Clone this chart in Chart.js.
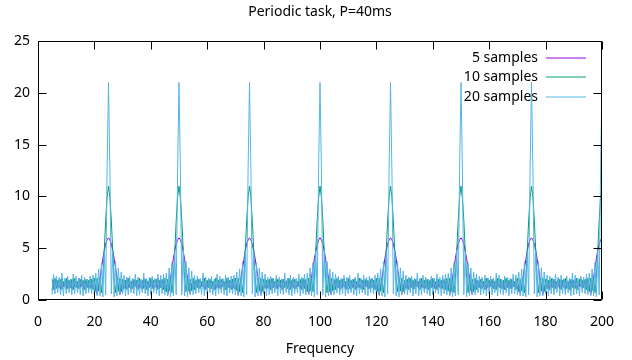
<!DOCTYPE html>
<html lang="en">
<head>
    <meta charset="utf-8">
    <script src="https://cdn.jsdelivr.net/npm/chart.js"></script>
    <style>
        html, body { margin: 0; padding: 0; background: #ffffff; }
        #wrap { width: 632px; height: 360px; position: relative; }
    </style>
</head>
<body>
    <div id="wrap"><canvas id="spectrum" width="632" height="360"></canvas></div>

    <script>
        // frequency grid of the samples (Hz)
        const freqStart = 5;
        const freqStep = 0.5;

        const seriesLabels = ['5 samples', '10 samples', '20 samples'];
        const seriesColors = ['#9400d3', '#009e73', '#56b4e9'];

        const xTicks = [0, 20, 40, 60, 80, 100, 120, 140, 160, 180, 200];
        const yTicks = [0, 5, 10, 15, 20, 25];

        // 5 samples
        const samples5 = [
            0.9,1.9,1.1,2.0,1.2,1.9,1.0,2.1,1.3,1.8,
            1.1,2.0,1.2,1.9,1.0,2.0,1.3,1.8,1.1,2.1,
            1.2,1.9,1.0,2.0,1.2,1.8,1.1,2.0,1.2,2.0,
            0.9,1.5,0.5,1.3,2.1,3.1,4.0,4.8,5.4,5.8,

            6.0,5.8,5.4,4.8,4.0,3.1,2.1,1.3,0.5,1.5,
            0.9,1.9,1.1,2.1,1.2,1.8,1.0,2.0,1.3,1.9,
            1.1,2.0,1.2,1.8,1.0,2.1,1.2,1.9,1.1,2.0,
            1.3,1.8,1.0,1.9,1.2,2.1,1.1,1.9,1.2,2.0,
            0.9,1.5,0.5,1.3,2.1,3.1,4.0,4.8,5.4,5.8,

            6.0,5.8,5.4,4.7,3.9,3.0,2.1,1.2,0.6,1.6,
            1.0,1.8,1.2,2.0,1.1,1.9,1.3,2.1,1.0,1.8,
            1.2,2.0,1.1,1.9,1.3,1.8,1.0,2.1,1.2,1.9,
            1.1,2.0,1.3,1.8,1.0,2.0,1.2,1.9,1.1,2.1,
            1.0,1.6,0.5,1.2,2.1,3.0,3.9,4.8,5.4,5.8,

            6.0,5.8,5.3,4.8,4.0,3.1,2.2,1.3,0.5,1.4,
            0.9,2.0,1.1,1.9,1.2,2.1,1.0,1.8,1.3,2.0,
            1.1,1.9,1.2,2.0,1.0,1.8,1.3,2.1,1.1,1.9,
            1.2,2.0,1.0,1.9,1.3,1.8,1.1,2.0,1.2,1.9,
            0.9,1.5,0.6,1.3,2.2,3.1,4.0,4.7,5.3,5.8,

            6.0,5.8,5.4,4.8,3.9,3.1,2.1,1.2,0.5,1.5,
            1.0,1.9,1.2,2.0,1.0,1.9,1.2,2.1,1.1,1.8,
            1.3,2.0,1.0,1.9,1.2,2.1,1.1,1.8,1.2,2.0,
            1.0,1.9,1.3,2.0,1.1,1.8,1.2,2.1,1.0,1.9,
            1.0,1.5,0.5,1.3,2.1,3.0,4.0,4.8,5.4,5.8,

            6.0,5.8,5.4,4.8,4.0,3.0,2.1,1.3,0.6,1.5,
            0.9,1.8,1.1,2.1,1.2,1.9,1.0,2.0,1.3,1.8,
            1.1,2.0,1.2,1.9,1.0,2.0,1.2,1.8,1.1,2.1,
            1.2,1.9,1.0,2.0,1.3,1.9,1.1,2.0,1.2,1.8,
            0.9,1.6,0.5,1.3,2.1,3.1,4.0,4.8,5.4,5.8,

            6.0,5.8,5.4,4.7,4.0,3.1,2.2,1.2,0.5,1.5,
            1.0,1.9,1.2,1.8,1.1,2.0,1.3,1.9,1.0,2.1,
            1.2,1.8,1.1,2.0,1.0,1.9,1.3,2.0,1.2,1.8,
            1.1,2.1,1.0,1.9,1.2,2.0,1.1,1.8,1.3,2.0,
            1.0,1.5,0.6,1.3,2.1,3.1,3.9,4.8,5.4,5.8,

            6.0,5.8,5.4,4.8,4.0,3.1,2.1,1.3,0.5,1.4,
            0.9,2.0,1.1,1.9,1.2,2.0,1.0,1.8,1.2,2.1,
            1.1,1.9,1.3,2.0,1.0,1.8,1.2,2.0,1.1,1.9,
            1.2,2.0,1.0,1.8,1.3,2.1,1.1,1.9,1.2,2.0,
            0.9,1.5,0.5,1.3,2.1,3.1,4.0,4.8,5.4,5.8,

            6.0
        ];

        // 10 samples
        const samples10 = [
            2.0,1.0,2.1,1.1,1.9,1.2,2.0,1.0,1.8,1.3,
            2.1,1.1,1.9,1.2,2.0,1.0,2.1,1.2,1.8,1.1,
            2.0,1.3,1.9,1.0,2.0,1.2,1.9,1.1,2.0,1.0,
            2.1,0.8,2.1,0.9,2.2,0.7,2.1,4.8,7.7,9.9,

            11.0,9.9,7.7,4.8,2.1,0.7,2.2,0.9,2.1,0.8,
            2.0,1.1,1.9,1.0,2.1,1.2,1.8,1.1,2.0,1.3,
            1.9,1.0,2.1,1.2,1.9,1.1,2.0,1.0,1.8,1.2,
            2.1,1.1,1.9,1.3,2.0,1.0,1.9,1.2,2.0,1.0,
            2.1,0.8,2.0,0.9,2.2,0.7,2.1,4.7,7.6,9.9,

            11.0,9.8,7.7,4.8,2.0,0.8,2.2,0.9,2.0,0.9,
            2.1,1.0,1.9,1.2,2.0,1.1,1.8,1.3,2.1,1.0,
            1.9,1.2,2.0,1.1,1.8,1.0,2.1,1.2,1.9,1.1,
            2.0,1.3,1.8,1.0,2.1,1.2,1.9,1.0,2.0,1.1,
            2.1,0.9,2.1,0.8,2.2,0.7,2.1,4.8,7.7,9.9,

            11.0,9.9,7.6,4.8,2.1,0.7,2.1,0.9,2.1,0.8,
            2.0,1.2,1.9,1.1,2.0,1.0,2.1,1.2,1.8,1.1,
            2.0,1.3,1.9,1.0,2.0,1.2,1.8,1.1,2.1,1.0,
            1.9,1.2,2.0,1.1,1.8,1.3,2.0,1.0,2.1,1.1,
            2.0,0.8,2.1,0.9,2.2,0.8,2.1,4.8,7.7,9.8,

            11.0,9.9,7.7,4.7,2.1,0.7,2.2,0.8,2.1,0.9,
            2.0,1.0,2.1,1.2,1.9,1.1,2.0,1.3,1.8,1.0,
            2.1,1.1,1.9,1.2,2.0,1.0,1.8,1.2,2.1,1.1,
            1.9,1.0,2.0,1.3,1.9,1.1,2.0,1.2,1.9,1.0,
            2.1,0.8,2.1,0.9,2.2,0.7,2.0,4.8,7.7,9.9,

            11.0,9.9,7.7,4.8,2.1,0.8,2.2,0.9,2.1,0.8,
            1.9,1.1,2.0,1.0,2.1,1.2,1.9,1.1,2.0,1.3,
            1.8,1.0,2.1,1.2,1.9,1.1,2.0,1.0,1.9,1.2,
            2.1,1.1,1.8,1.0,2.0,1.2,1.9,1.1,2.0,1.0,
            2.1,0.9,2.1,0.8,2.2,0.7,2.1,4.8,7.6,9.9,

            11.0,9.8,7.7,4.8,2.1,0.7,2.2,0.9,2.0,0.8,
            2.1,1.0,1.9,1.2,2.0,1.1,1.8,1.0,2.1,1.2,
            1.9,1.3,2.0,1.1,1.8,1.0,2.1,1.2,2.0,1.1,
            1.9,1.0,2.1,1.2,1.9,1.1,2.0,1.3,1.8,1.0,
            2.1,0.8,2.0,0.9,2.2,0.7,2.1,4.8,7.7,9.9,

            11.0,9.9,7.7,4.8,2.1,0.7,2.2,0.9,2.1,0.8,
            2.0,1.1,1.9,1.0,2.1,1.2,2.0,1.1,1.8,1.3,
            2.0,1.0,1.9,1.2,2.1,1.1,1.8,1.0,2.0,1.2,
            1.9,1.1,2.1,1.0,2.0,1.3,1.9,1.2,2.0,1.0,
            2.1,0.8,2.1,0.9,2.2,0.7,2.1,4.8,7.7,9.9,

            11.0
        ];

        // 20 samples
        const samples20 = [
            0.5,2.5,0.6,2.3,0.7,2.2,0.5,2.6,0.4,2.1,
            0.6,2.3,0.7,2.0,0.5,2.5,0.6,2.3,0.7,2.1,
            0.5,2.4,0.4,2.2,0.6,2.0,0.7,2.3,0.6,2.4,
            0.5,2.6,0.4,3.0,0.4,3.6,0.3,4.7,0.5,12.5,

            21.0,12.5,0.6,4.8,0.3,3.7,0.4,3.1,0.5,2.7,
            0.6,2.4,0.4,2.2,0.5,2.3,0.7,2.1,0.6,2.5,
            0.4,2.2,0.5,2.0,0.7,2.6,0.6,2.1,0.4,2.2,
            0.5,2.3,0.7,2.1,0.6,2.5,0.4,2.4,0.6,2.5,
            0.5,2.6,0.4,3.1,0.3,3.6,0.4,4.7,0.5,12.4,

            21.0,12.4,0.5,4.8,0.4,3.7,0.3,3.1,0.5,2.8,
            0.5,2.4,0.6,2.3,0.7,2.1,0.5,2.6,0.4,2.2,
            0.6,2.1,0.7,2.3,0.5,2.0,0.4,2.5,0.6,2.3,
            0.7,2.1,0.5,2.4,0.4,2.2,0.7,2.3,0.6,2.4,
            0.5,2.7,0.4,3.0,0.4,3.7,0.3,4.8,0.5,12.5,

            21.0,12.5,0.6,4.7,0.3,3.6,0.4,3.1,0.4,2.7,
            0.6,2.5,0.4,2.2,0.5,2.3,0.6,2.1,0.7,2.4,
            0.4,2.2,0.6,2.0,0.5,2.6,0.7,2.1,0.5,2.4,
            0.4,2.2,0.6,2.1,0.7,2.5,0.4,2.2,0.6,2.5,
            0.5,2.6,0.5,3.1,0.4,3.6,0.3,4.7,0.5,12.5,

            21.0,12.5,0.5,4.8,0.3,3.7,0.4,3.0,0.5,2.7,
            0.5,2.5,0.7,2.3,0.5,2.1,0.6,2.4,0.4,2.2,
            0.6,2.4,0.7,2.0,0.5,2.2,0.4,2.6,0.6,2.1,
            0.7,2.4,0.5,2.2,0.4,2.3,0.7,2.1,0.6,2.4,
            0.5,2.6,0.4,3.0,0.4,3.7,0.3,4.7,0.6,12.5,

            21.0,12.4,0.6,4.8,0.4,3.7,0.3,3.1,0.5,2.8,
            0.6,2.4,0.5,2.2,0.7,2.3,0.4,2.1,0.6,2.6,
            0.4,2.1,0.5,2.4,0.7,2.2,0.6,2.0,0.4,2.3,
            0.5,2.1,0.7,2.5,0.6,2.2,0.4,2.4,0.6,2.5,
            0.5,2.6,0.4,3.1,0.3,3.6,0.4,4.8,0.5,12.5,

            21.0,12.5,0.5,4.7,0.3,3.6,0.4,3.1,0.5,2.7,
            0.5,2.5,0.7,2.3,0.5,2.2,0.6,2.4,0.4,2.1,
            0.6,2.3,0.5,2.1,0.7,2.6,0.4,2.4,0.6,2.0,
            0.5,2.3,0.7,2.2,0.4,2.1,0.6,2.5,0.6,2.4,
            0.5,2.7,0.4,3.0,0.4,3.7,0.3,4.7,0.5,12.5,

            21.0,12.5,0.6,4.8,0.3,3.7,0.4,3.1,0.4,2.7,
            0.6,2.4,0.4,2.3,0.6,2.1,0.5,2.5,0.7,2.2,
            0.4,2.4,0.6,2.0,0.5,2.3,0.7,2.1,0.4,2.6,
            0.5,2.4,0.6,2.1,0.4,2.3,0.7,2.2,0.6,2.5,
            0.5,2.6,0.4,3.0,0.4,3.6,0.3,4.7,0.5,12.5,

            21.0
        ];

        const seriesValues = [samples5, samples10, samples20];
        const FONT = "'Noto Sans', 'DejaVu Sans', sans-serif";

        function toPoints(values) {
            return values.map((v, i) => ({ x: freqStart + i * freqStep, y: v }));
        }

        // gnuplot style: border box, inward ticks on all four sides, titles, key
        const gnuplotFrame = {
            id: 'gnuplotFrame',
            beforeDatasetsDraw(chart) {
                const ctx = chart.ctx;
                const a = chart.chartArea;
                ctx.save();
                ctx.fillStyle = '#000';
                ctx.font = '14px ' + FONT;
                ctx.textAlign = 'center';
                ctx.textBaseline = 'middle';
                ctx.fillText('Periodic task, P=40ms', (a.left + a.right) / 2, 12);
                ctx.fillText('Frequency', (a.left + a.right) / 2, 349);

                // key
                const keyY = [58, 77, 97];
                ctx.textAlign = 'right';
                seriesLabels.forEach((lab, i) => {
                    ctx.fillStyle = '#000';
                    ctx.fillText(lab, 538, keyY[i]);
                    ctx.strokeStyle = seriesColors[i];
                    ctx.lineWidth = 1;
                    ctx.beginPath();
                    ctx.moveTo(546, keyY[i]);
                    ctx.lineTo(586, keyY[i]);
                    ctx.stroke();
                });
                ctx.restore();
            },
            afterDatasetsDraw(chart) {
                const ctx = chart.ctx;
                const a = chart.chartArea;
                const xs = chart.scales.x, ys = chart.scales.y;
                const L = Math.round(a.left) + 0.5, R = Math.round(a.right) - 0.5;
                const T = Math.round(a.top) + 0.5, B = Math.round(a.bottom) - 0.5;
                const tl = 8;
                ctx.save();
                ctx.strokeStyle = '#000';
                ctx.lineWidth = 1;
                ctx.beginPath();
                ctx.rect(L, T, R - L, B - T);
                xTicks.forEach(v => {
                    const px = Math.round(xs.getPixelForValue(v)) + 0.5;
                    ctx.moveTo(px, B); ctx.lineTo(px, B - tl);
                    ctx.moveTo(px, T); ctx.lineTo(px, T + tl);
                });
                yTicks.forEach(v => {
                    const py = Math.round(ys.getPixelForValue(v)) + 0.5;
                    ctx.moveTo(L, py); ctx.lineTo(L + tl, py);
                    ctx.moveTo(R, py); ctx.lineTo(R - tl, py);
                });
                ctx.stroke();
                ctx.restore();
            }
        };

        const ctx = document.getElementById('spectrum').getContext('2d');
        new Chart(ctx, {
            type: 'line',
            data: {
                datasets: seriesValues.map((vals, i) => ({
                    label: seriesLabels[i],
                    data: toPoints(vals),
                    borderColor: seriesColors[i],
                    backgroundColor: seriesColors[i],
                    borderWidth: 1,
                    pointRadius: 0,
                    tension: 0,
                    fill: false,
                    order: 3 - i
                }))
            },
            options: {
                responsive: false,
                animation: false,
                layout: { padding: { top: 41, right: 30, bottom: 0, left: 0 } },
                plugins: {
                    legend: { display: false },
                    title: { display: false },
                    tooltip: { enabled: false }
                },
                scales: {
                    x: {
                        type: 'linear',
                        min: 0,
                        max: 200,
                        grid: { display: false, drawTicks: false },
                        border: { display: false },
                        afterBuildTicks: s => { s.ticks = xTicks.map(v => ({ value: v })); },
                        afterFit: s => { s.height = 60; },
                        ticks: { color: '#000', padding: 14, maxRotation: 0, font: { family: FONT, size: 14 } }
                    },
                    y: {
                        min: 0,
                        max: 25,
                        grid: { display: false, drawTicks: false },
                        border: { display: false },
                        afterBuildTicks: s => { s.ticks = yTicks.map(v => ({ value: v })); },
                        afterFit: s => { s.width = 38; },
                        ticks: { color: '#000', padding: 8, font: { family: FONT, size: 14 } }
                    }
                }
            },
            plugins: [gnuplotFrame]
        });
    </script>
</body>
</html>
